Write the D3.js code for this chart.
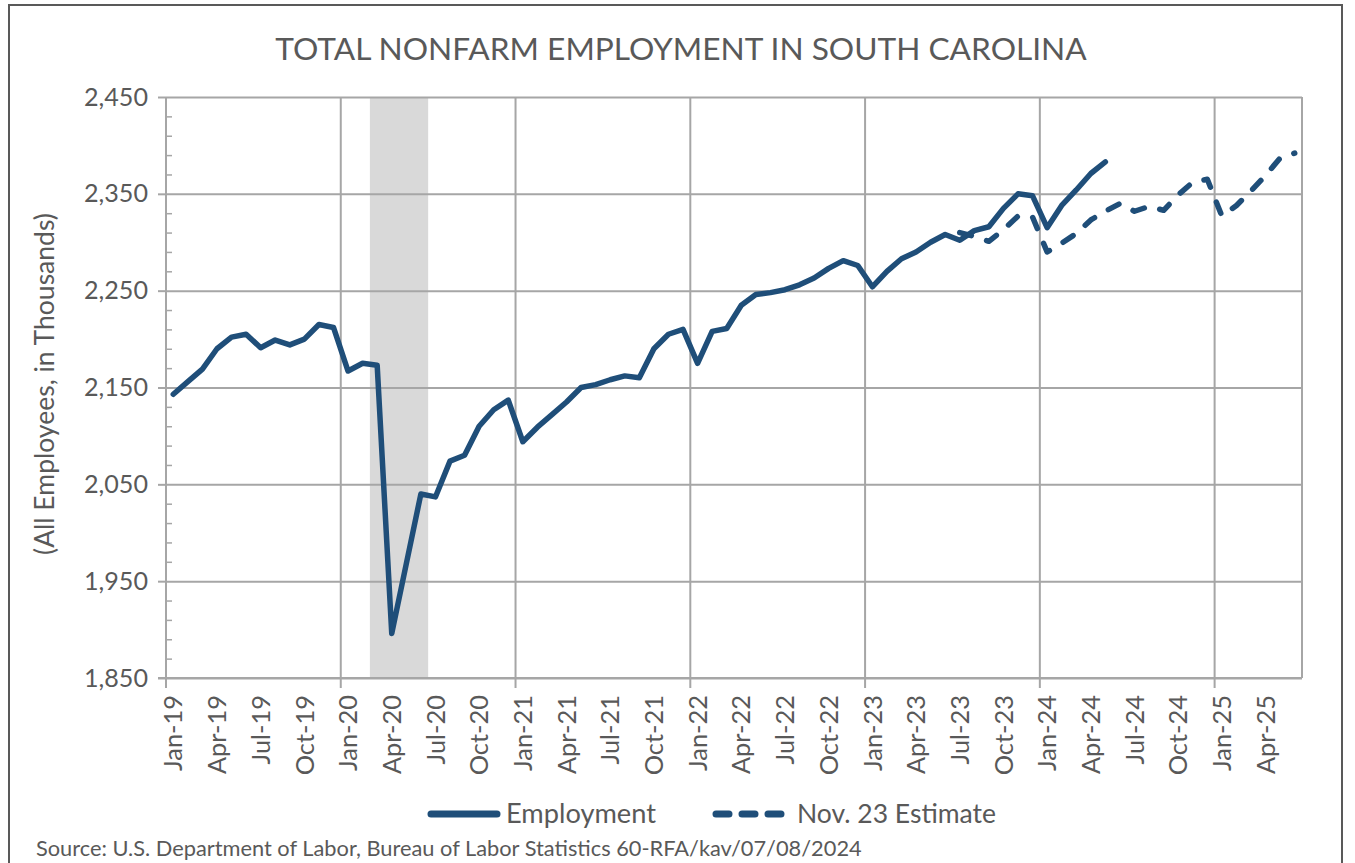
<!DOCTYPE html>
<html><head><meta charset="utf-8">
<script src="https://cdn.jsdelivr.net/npm/d3@7"></script>
<style>
html,body{margin:0;padding:0;background:#fff;}
svg{display:block;font-family:Lato,"Open Sans",sans-serif;}
</style></head>
<body><svg id="c" width="1355" height="863"></svg>
<script>
// ---------- data ----------
const months = [
 "Jan-19","Feb-19","Mar-19","Apr-19","May-19","Jun-19","Jul-19","Aug-19","Sep-19","Oct-19","Nov-19","Dec-19",
 "Jan-20","Feb-20","Mar-20","Apr-20","May-20","Jun-20","Jul-20","Aug-20","Sep-20","Oct-20","Nov-20","Dec-20",
 "Jan-21","Feb-21","Mar-21","Apr-21","May-21","Jun-21","Jul-21","Aug-21","Sep-21","Oct-21","Nov-21","Dec-21",
 "Jan-22","Feb-22","Mar-22","Apr-22","May-22","Jun-22","Jul-22","Aug-22","Sep-22","Oct-22","Nov-22","Dec-22",
 "Jan-23","Feb-23","Mar-23","Apr-23","May-23","Jun-23","Jul-23","Aug-23","Sep-23","Oct-23","Nov-23","Dec-23",
 "Jan-24","Feb-24","Mar-24","Apr-24","May-24","Jun-24","Jul-24","Aug-24","Sep-24","Oct-24","Nov-24","Dec-24",
 "Jan-25","Feb-25","Mar-25","Apr-25","May-25","Jun-25"];
// Employment, Jan-19 .. May-24 (thousands)
const employment = [
 2143,2156,2169,2190,2202,2205,2191,2199,2194,2200,2215,2212,
 2167,2175,2173,1896,1968,2040,2037,2074,2080,2110,2127,2137,
 2094,2109,2122,2135,2150,2153,2158,2162,2160,2190,2205,2210,
 2175,2208,2211,2235,2246,2248,2251,2256,2263,2273,2281,2276,
 2254,2270,2283,2290,2300,2308,2302,2312,2316,2335,2350,2348,
 2315,2338,2354,2371,2383];
// Nov. 23 Estimate, Jul-23 .. Jun-25
const estimateStart = "Jul-23";
const estimate = [
 2310,2306,2301,2313,2327,2326,
 2290,2299,2309,2323,2332,2340,2332,2337,2333,2349,2362,2365,
 2327,2338,2353,2369,2387,2392];
const recession = ["Mar-20","Apr-20","May-20","Jun-20"];
const yTicks = [1850,1950,2050,2150,2250,2350,2450];
const yMinor = [1870,1890,1910,1930,1970,1990,2010,2030,2070,2090,2110,2130,2170,2190,2210,2230,2270,2290,2310,2330,2370,2390,2410,2430];
const xLabels = months.filter((m,i)=>i%3===0);
const yearStarts = months.filter(m=>m.startsWith("Jan"));
const title = "TOTAL NONFARM EMPLOYMENT IN SOUTH CAROLINA";
const yTitle = "(All Employees, in Thousands)";
const seriesNames = ["Employment","Nov. 23 Estimate"];
const source = "Source: U.S. Department of Labor, Bureau of Labor Statistics 60-RFA/kav/07/08/2024";

// ---------- layout ----------
const L=166, R=1302, T=97, B=678;
const TXT="#595959", GRID="#a6a6a6", LINE="#1F4E79";
const svg = d3.select("#c");
const x = d3.scaleBand().domain(months).range([L,R]).padding(0);
const bw = x.bandwidth();
const y = d3.scaleLinear().domain([1850,2450]).range([B,T]);

function fit(sel, target){
  const n = sel.node(); const fs = parseFloat(sel.attr("font-size"));
  const w = n.getComputedTextLength(); return fs*target/w;
}

// outer frame
svg.append("rect").attr("x",9).attr("y",5).attr("width",1333).attr("height",900)
  .attr("fill","none").attr("stroke","#595959").attr("stroke-width",2);

// recession shading
svg.append("rect").attr("x",x(recession[0])).attr("y",T)
  .attr("width",x(recession[recession.length-1])+bw-x(recession[0])).attr("height",B-T)
  .attr("fill","#d9d9d9");

// horizontal gridlines
svg.append("g").attr("transform",`translate(${L},0)`)
  .call(d3.axisLeft(y).tickValues(yTicks).tickSize(-(R-L)).tickFormat(""))
  .call(g=>{g.select(".domain").remove(); g.selectAll("line").attr("stroke",GRID).attr("stroke-width",2);});
// y major ticks + labels
const yAx = svg.append("g").attr("transform",`translate(${L},0)`)
  .call(d3.axisLeft(y).tickValues(yTicks).tickSize(8).tickPadding(10).tickFormat(d3.format(",")))
  .call(g=>{g.select(".domain").remove(); g.selectAll("line").attr("stroke",GRID).attr("stroke-width",2);});
yAx.selectAll("text").attr("fill",TXT).attr("font-size",24).attr("font-family","Lato");
{ const fs = fit(yAx.select("text"), 64); yAx.selectAll("text").attr("font-size",fs); }
// y minor ticks (inside)
svg.append("g").attr("transform",`translate(${L},0)`)
  .call(d3.axisRight(y).tickValues(yMinor).tickSize(6).tickFormat(""))
  .call(g=>{g.select(".domain").remove(); g.selectAll("line").attr("stroke",GRID).attr("stroke-width",1.5);});

// vertical gridlines at January boundaries
svg.append("g").selectAll("line").data(yearStarts.slice(1)).join("line")
  .attr("x1",d=>x(d)).attr("x2",d=>x(d)).attr("y1",T).attr("y2",B+10)
  .attr("stroke",GRID).attr("stroke-width",2);
// left axis line, right border, bottom axis
svg.append("line").attr("x1",L).attr("x2",L).attr("y1",T).attr("y2",B+10).attr("stroke",GRID).attr("stroke-width",2);
svg.append("line").attr("x1",R).attr("x2",R).attr("y1",T).attr("y2",B).attr("stroke",GRID).attr("stroke-width",2);
svg.append("line").attr("x1",L-8).attr("x2",R).attr("y1",B).attr("y2",B).attr("stroke",GRID).attr("stroke-width",2);

// x labels (rotated)
const xAx = svg.append("g").attr("transform",`translate(0,${B})`)
  .call(d3.axisBottom(x).tickValues(xLabels).tickSize(0).tickFormat(d=>d))
  .call(g=>{g.select(".domain").remove();});
xAx.selectAll("text").attr("fill",TXT).attr("font-size",24).attr("font-family","Lato")
  .attr("text-anchor","end").attr("transform","rotate(-90)")
  .attr("x",-17).attr("y",0).attr("dy","0.36em");
{ const fs = fit(xAx.select("text"), 76); xAx.selectAll("text").attr("font-size",fs); }

// series
const line = d3.line().x(d=>x(d[0])+bw/2).y(d=>y(d[1]));
const estIdx = months.indexOf(estimateStart);
svg.append("path").datum(estimate.map((v,i)=>[months[estIdx+i],v]))
  .attr("d",line).attr("fill","none").attr("stroke",LINE).attr("stroke-width",5.5)
  .attr("stroke-linecap","round").attr("stroke-linejoin","round").attr("stroke-dasharray","12,16");
svg.append("path").datum(employment.map((v,i)=>[months[i],v]))
  .attr("d",line).attr("fill","none").attr("stroke",LINE).attr("stroke-width",5.5)
  .attr("stroke-linecap","round").attr("stroke-linejoin","round");

// title
const tt = svg.append("text").attr("x",681).attr("y",60).attr("text-anchor","middle")
  .attr("fill",TXT).attr("font-size",32).attr("font-family","Lato").text(title);
tt.attr("font-size", fit(tt,812));

// y title
const yt = svg.append("text").attr("transform","translate(54,384) rotate(-90)").attr("text-anchor","middle")
  .attr("fill",TXT).attr("font-size",24).attr("font-family","Lato").text(yTitle);
yt.attr("font-size", fit(yt,342));

// legend
const lg = svg.append("g");
lg.append("line").attr("x1",431).attr("x2",497).attr("y1",814).attr("y2",814)
  .attr("stroke",LINE).attr("stroke-width",7).attr("stroke-linecap","round");
const l1 = lg.append("text").attr("x",506).attr("y",823).attr("fill",TXT).attr("font-size",24).attr("font-family","Lato").text(seriesNames[0]);
l1.attr("font-size", fit(l1,150));
lg.append("line").attr("x1",716).attr("x2",783).attr("y1",814).attr("y2",814)
  .attr("stroke",LINE).attr("stroke-width",7).attr("stroke-linecap","round").attr("stroke-dasharray","13,13");
const l2 = lg.append("text").attr("x",797).attr("y",823).attr("fill",TXT).attr("font-size",24).attr("font-family","Lato").text(seriesNames[1]);
l2.attr("font-size", fit(l2,199));

// source
const st = svg.append("text").attr("x",36).attr("y",856).attr("fill",TXT).attr("font-size",17).attr("font-family","Lato").text(source);
st.attr("font-size", fit(st,826));
</script></body></html>
